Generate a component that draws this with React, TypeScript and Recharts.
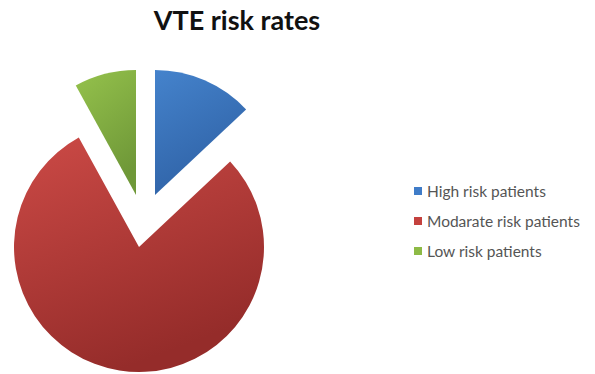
import { PieChart, Pie, Cell } from "recharts";

const categories = ["High risk patients", "Modarate risk patients", "Low risk patients"];
const shares = [13, 79, 8];

const COLORS = ["#3f7cc8", "#c4413e", "#8dba46"];
const GRADS = [
  ["#4583cc", "#2f62a6"],
  ["#cc4a46", "#952c2a"],
  ["#95c24c", "#6f9838"],
];
// how far each slice is pulled off the red centre
const EXPLODE = [
  [16, -52],
  [0, 0],
  [-3, -52],
];

const CX = 134;
const CY = 242;
const R = 125;

const data = categories.map((name, i) => ({ name, value: shares[i] }));

export default function App() {
  return (
    <div
      style={{
        position: "absolute",
        left: 0,
        top: 0,
        width: 595,
        height: 374,
        background: "#fff",
        overflow: "hidden",
      }}
    >
      <PieChart width={595} height={374}>
        <defs>
          {GRADS.map((g, i) => (
            <linearGradient key={i} id={`g${i}`} x1="0" y1="0" x2="0.4" y2="1">
              <stop offset="0%" stopColor={g[0]} />
              <stop offset="100%" stopColor={g[1]} />
            </linearGradient>
          ))}
        </defs>
        {data.map((_, k) => (
          <Pie
            key={k}
            data={data}
            dataKey="value"
            cx={CX + EXPLODE[k][0]}
            cy={CY + EXPLODE[k][1]}
            outerRadius={R}
            startAngle={90}
            endAngle={-270}
            stroke="none"
            isAnimationActive={false}
            legendType="none"
          >
            {data.map((d, i) => (
              <Cell key={d.name} fill={i === k ? `url(#g${i})` : "none"} />
            ))}
          </Pie>
        ))}
      </PieChart>
      <div
        style={{
          position: "absolute",
          left: 0,
          top: 3,
          width: 474,
          textAlign: "center",
          fontFamily: "Lato, 'Open Sans', sans-serif",
          fontWeight: 700,
          fontSize: 27,
          color: "#111",
        }}
      >
        VTE risk rates
      </div>
      <div
        style={{
          position: "absolute",
          left: 414,
          top: 176,
          fontFamily: "Lato, 'Open Sans', sans-serif",
          fontSize: 15.5,
          color: "#555",
        }}
      >
        {categories.map((c, i) => (
          <div key={c} style={{ height: 30, display: "flex", alignItems: "center" }}>
            <span
              style={{
                display: "inline-block",
                width: 8,
                height: 8,
                background: COLORS[i],
                marginRight: 5,
              }}
            />
            {c}
          </div>
        ))}
      </div>
    </div>
  );
}
